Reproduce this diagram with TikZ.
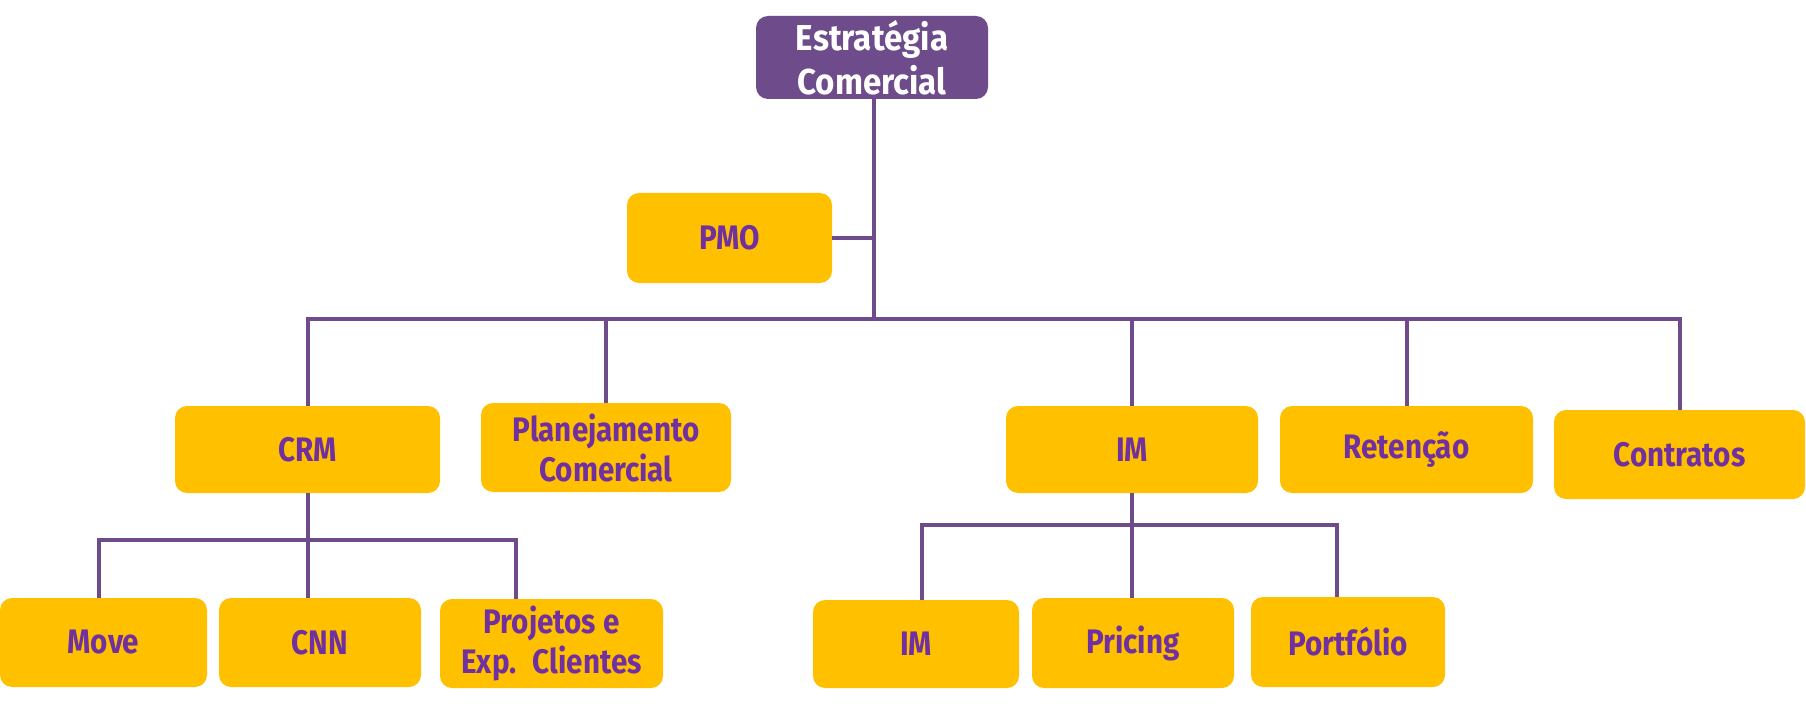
\documentclass[tikz,border=0pt]{standalone}
\usepackage{fontspec}
\usepackage{tikz}
\newfontfamily\orgfont{Fira Sans}[FakeStretch=0.87]
\newfontfamily\topofont{Fira Sans}[FakeStretch=0.92]
\definecolor{roxo}{HTML}{6E4B8A}
\definecolor{roxotxt}{HTML}{7030A0}
\definecolor{amarelo}{HTML}{FFC000}

\begin{document}
\begin{tikzpicture}[x=0.5pt, y=-0.5pt]
  \tikzstyle{area} = [rectangle, rounded corners=6pt, fill=amarelo, text=roxotxt,
  inner sep=0pt, align=center, font=\orgfont\bfseries\fontsize{17}{20}\selectfont]
  \tikzstyle{topo} = [area, fill=roxo, text=white,
  font=\topofont\bfseries\fontsize{18}{22}\selectfont]
  \tikzstyle{link} = [draw=roxo, line width=2pt]

  \useasboundingbox (0,0) rectangle (1806,706);

  % Define nodes
  \node[topo, minimum width=116pt, minimum height=41.5pt] (estr) at (872,57.5) {Estratégia\\Comercial};
  \node[area, minimum width=102.5pt, minimum height=45pt] (pmo) at (729.5,238) {PMO};

  \node[area, minimum width=132.5pt, minimum height=43.5pt] (crm) at (307.5,449.5) {CRM};
  \node[area, minimum width=125pt, minimum height=44.5pt] (plan) at (606,447.5) {Planejamento\\Comercial};
  \node[area, minimum width=126pt, minimum height=43.5pt] (im) at (1132,449.5) {IM};
  \node[area, minimum width=126.5pt, minimum height=43.5pt] (ret) at (1406.5,449.5) {Retenção};
  \node[area, minimum width=125.5pt, minimum height=44.5pt] (contr) at (1679.5,454.5) {Contratos};

  \node[area, minimum width=103.5pt, minimum height=44.5pt] (move) at (103.5,642.5) {Move};
  \node[area, minimum width=101pt, minimum height=44.5pt] (cnn) at (320,642.5) {CNN};
  \node[area, minimum width=111.5pt, minimum height=44.5pt] (proj) at (551.5,643.5) {Projetos e\\Exp.~ Clientes};

  \node[area, minimum width=103pt, minimum height=44pt] (imsub) at (916,644) {IM};
  \node[area, minimum width=101pt, minimum height=45pt] (pric) at (1133,643) {Pricing};
  \node[area, minimum width=97pt, minimum height=45pt] (port) at (1348,642) {Portfólio};

  % Bus points
  \coordinate (bus) at (874,319);
  \coordinate (crmL) at (99,540);
  \coordinate (crmR) at (516,540);
  \coordinate (imL) at (922,525);
  \coordinate (imR) at (1337,525);

  % Connectors
  \draw[link] (estr.south -| bus) -- (bus);
  \draw[link] (pmo.east) -- (pmo.east -| bus);
  \draw[link] (crm.north) |- (bus) -| (contr.north);
  \foreach \n in {plan, im, ret}
    \draw[link] (\n.north) -- (\n.north |- bus);

  \draw[link] (crm.south) -- (crm.south |- cnn.north);
  \draw[link] (crmL |- move.north) |- (crmR) -- (crmR |- proj.north);

  \draw[link] (im.south) -- (im.south |- pric.north);
  \draw[link] (imL |- imsub.north) |- (imR) -- (imR |- port.north);
\end{tikzpicture}
\end{document}
